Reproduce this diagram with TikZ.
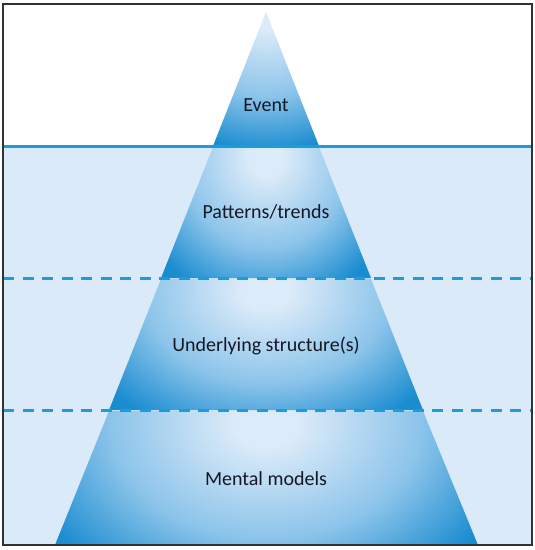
\documentclass[tikz,border=0pt]{standalone}
\usepackage{fontspec}
\setmainfont{Carlito}
\definecolor{icelight}{RGB}{220,235,249}
\definecolor{icemid}{RGB}{140,196,234}
\definecolor{icedark}{RGB}{26,140,208}
\definecolor{water}{RGB}{219,234,248}
\definecolor{wline}{RGB}{30,156,216}
\definecolor{frame}{RGB}{50,50,50}
\definecolor{txt}{RGB}{20,24,36}
\pgfdeclareradialshading{iceshade}{\pgfpoint{0bp}{0bp}}{color(0bp)=(icelight); color(3bp)=(icelight); color(15bp)=(icemid); color(25bp)=(icedark); color(50bp)=(icedark)}
\begin{document}
\begin{tikzpicture}[x=1pt,y=-1pt,
  lbl/.style={font=\fontsize{20}{24}\selectfont, text=txt, inner sep=0pt},
  wave/.style={draw=wline, line width=3pt},
  dashwave/.style={draw=wline, line width=3pt, dash pattern=on 11pt off 8.5pt}]
\useasboundingbox (0,0) rectangle (535,550);
\fill[white] (0,0) rectangle (535,550);
% water
\fill[water] (3,146) rectangle (532,545);
% layers (radial shading scaled to the rectangle's box)
\begin{scope}
  \clip (266,12) -- (319,146) -- (213,146) -- cycle;
  \shade[shading=iceshade] (126,-128) rectangle (406,152);
\end{scope}
\begin{scope}
  \clip (213,147) -- (319,147) -- (371,278) -- (161,278) -- cycle;
  \shade[shading=iceshade] (126,8) rectangle (406,308);
\end{scope}
\begin{scope}
  \clip (161,279) -- (371,279) -- (423,410) -- (109,410) -- cycle;
  \shade[shading=iceshade] (61,135) rectangle (471,445);
\end{scope}
\begin{scope}
  \clip (109,411) -- (423,411) -- (478,545) -- (55,545) -- cycle;
  \shade[shading=iceshade] (8,234) rectangle (524,614);
\end{scope}
% lines
\coordinate (wl) at (3,146); \coordinate (wr) at (532,146);
\coordinate (d1l) at (3,278); \coordinate (d1r) at (532,278);
\coordinate (d2l) at (3,410); \coordinate (d2r) at (532,410);
\draw[wave] (wl) -- (wr);
\draw[dashwave] (d1l) -- (d1r);
\draw[dashwave] (d2l) -- (d2r);
% frame
\draw[frame, line width=2pt] (3,4) rectangle (532,545);
% labels
\node[lbl] (event) at (266,105) {Event};
\node[lbl] (patterns) at (266,212) {Patterns/trends};
\node[lbl] (structure) at (266,346) {Underlying structure(s)};
\node[lbl] (mental) at (266,479) {Mental models};
\end{tikzpicture}
\end{document}
